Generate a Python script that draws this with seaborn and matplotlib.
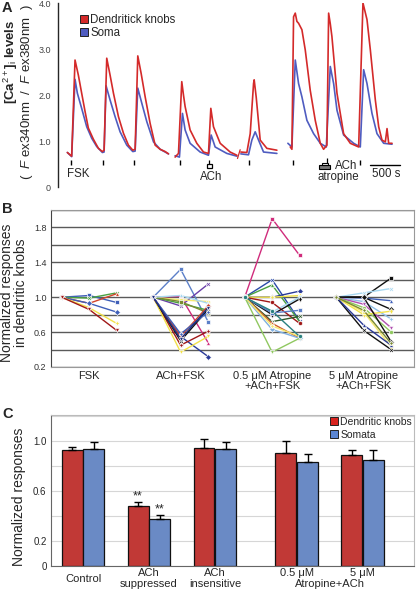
import matplotlib
matplotlib.use("Agg")
import matplotlib.pyplot as plt
from matplotlib.lines import Line2D
from matplotlib.patches import Rectangle
import pandas as pd
import seaborn as sns

# ---------------- panel A: Ca traces (time in s, F340/F380 ratio) ----------------
knob_t1 = [165, 241, 300, 359, 417, 477, 535, 623, 712, 782, 812, 859, 918, 977, 1065, 1153, 1241, 1318, 1359, 1406, 1465, 1536, 1624, 1712, 1800, 1889, 1947]
knob_v1 = [0.75, 0.67, 2.76, 2.43, 2.04, 1.64, 1.28, 1.04, 0.84, 0.77, 0.80, 2.80, 2.43, 2.04, 1.53, 1.17, 0.91, 0.80, 0.82, 2.85, 2.47, 1.96, 1.38, 0.91, 0.82, 0.77, 0.72]
knob_t2 = [2064, 2123, 2181, 2211, 2240, 2328, 2446, 2564, 2652, 2693, 2740, 2858, 3034, 3152]
knob_v2 = [0.65, 0.73, 2.29, 2.00, 1.75, 1.24, 0.95, 0.76, 0.73, 1.71, 1.31, 0.95, 0.76, 0.69]
knob_t3 = [3222, 3328, 3387, 3446, 3457, 3493, 3563, 3681, 3857]
knob_v3 = [0.76, 0.75, 1.16, 2.25, 2.33, 1.95, 1.02, 0.84, 0.80]
knob_t4 = [4093, 4122, 4151, 4181, 4210, 4239, 4298, 4357, 4445, 4533, 4622, 4680, 4739, 4769, 4798, 4827, 4916, 5033, 5151, 5298, 5374, 5445, 5504, 5592, 5651, 5709, 5768, 5798, 5827, 5886]
knob_v4 = [0.87, 0.82, 3.70, 3.78, 3.60, 3.56, 3.42, 2.98, 2.10, 1.45, 0.95, 0.82, 0.91, 3.78, 3.55, 3.27, 2.04, 1.16, 0.95, 0.87, 4.00, 3.64, 2.98, 1.89, 1.31, 1.02, 0.98, 1.27, 0.95, 0.95]

soma_t1 = [165, 241, 300, 341, 417, 506, 594, 682, 782, 812, 847, 918, 1006, 1094, 1212, 1318, 1359, 1406, 1477, 1565, 1683, 1800, 1947]
soma_v1 = [0.75, 0.66, 2.34, 2.04, 1.71, 1.31, 1.06, 0.88, 0.75, 0.76, 2.20, 1.89, 1.53, 1.20, 0.91, 0.77, 0.78, 2.15, 1.82, 1.42, 0.98, 0.82, 0.72]
soma_t2 = [2064, 2140, 2193, 2240, 2328, 2505, 2652, 2699, 2769, 2975, 3152]
soma_v2 = [0.68, 0.65, 1.60, 1.24, 0.95, 0.76, 0.69, 1.13, 0.87, 0.73, 0.67]
soma_t3 = [3222, 3357, 3416, 3475, 3534, 3622, 3857]
soma_v3 = [0.72, 0.70, 1.02, 1.20, 1.02, 0.76, 0.73]
soma_t4 = [4051, 4122, 4181, 4239, 4298, 4386, 4504, 4622, 4728, 4798, 4857, 4916, 5033, 5210, 5327, 5386, 5445, 5533, 5621, 5739, 5886]
soma_v4 = [0.95, 0.87, 2.76, 2.25, 1.96, 1.45, 1.16, 0.95, 0.87, 2.62, 2.25, 1.67, 1.13, 0.95, 0.87, 2.55, 2.25, 1.60, 1.16, 0.95, 0.93]

stim_times = [229, 800, 1340, 2152, 3357, 4140, 5316]

# ---------------- panel B: normalized responses per knob ----------------
b_groups = ["FSK", "ACh+FSK", "0.5 μM Atropine\n+ACh+FSK", "5 μM Atropine\n+ACh+FSK"]

fsk_mid = [1.02, 0.99, 0.93, 0.93, 0.88, 0.86]
fsk_end = [0.94, 1.05, 1.04, 0.83, 0.70, 0.62]
fsk_col = ["#3f5fb8", "#4aa040", "#d0442a", "#3f5fb8", "#f2e24a", "#a01818"]

ach_mid = [1.32, 0.90, 1.01, 0.55, 0.45, 0.37, 0.97, 0.93, 0.95, 0.50, 1.02, 0.55, 0.58, 0.52]
ach_end = [0.72, 1.15, 0.48, 0.32, 0.61, 0.55, 0.95, 0.85, 0.82, 0.86, 0.93, 0.90, 0.83, 0.88]
ach_col = ["#5b7fc8", "#6a3fa8", "#d02c7c", "#2a3a98", "#a01818", "#f2e24a", "#f6e870", "#4aa040",
           "#7a8a30", "#111111", "#a8d8f0", "#d0442a", "#3f5fb8", "#1f2f7f"]

atr05_mid = [1.90, 1.20, 1.14, 1.00, 1.00, 0.83, 0.94, 0.80, 0.82, 0.72, 0.70, 0.63, 0.67, 0.37, 0.84]
atr05_end = [1.48, 0.73, 0.72, 1.07, 1.02, 1.00, 0.70, 0.98, 0.85, 0.78, 0.53, 0.53, 0.55, 0.53, 0.55]
atr05_col = ["#d02c7c", "#2a4aa8", "#4aa040", "#2a3a98", "#f2e24a", "#a8d8f0", "#a01818", "#111111",
             "#5b7fc8", "#2f5a2a", "#d0602a", "#80b0e0", "#f6e870", "#90c860", "#2a8080"]

atr5_mid = [1.00, 1.05, 0.99, 1.00, 0.95, 0.92, 0.88, 0.80, 0.83, 0.62, 0.68, 1.00, 0.85]
atr5_end = [1.22, 1.10, 0.96, 0.86, 0.75, 0.65, 0.60, 0.84, 0.43, 0.40, 0.45, 0.49, 0.47]
atr5_col = ["#111111", "#a8d8f0", "#3f5fb8", "#111111", "#90c0e8", "#b050b0", "#90c860", "#f2e24a",
            "#f6e870", "#111111", "#2a3a98", "#111111", "#7a8a30"]

# ---------------- panel C: mean normalized responses ----------------
c_groups = ["Control", "ACh\nsuppressed", "ACh\ninsensitive", "0.5 μM", "5 μM"]
c_pos = [0, 1, 2, 3.24, 4.24]
knobs = [0.928, 0.481, 0.947, 0.909, 0.893]
knobs_err = [0.027, 0.032, 0.067, 0.094, 0.035]
somata = [0.936, 0.380, 0.936, 0.834, 0.853]
somata_err = [0.060, 0.032, 0.060, 0.062, 0.075]

RED = "#d42a2a"
BLUE = "#4f5cc0"
BAR_RED = "#d8231f"
BAR_BLUE = "#5b86d4"

sns.set_style("white")
plt.rcParams["font.family"] = ["Liberation Sans", "DejaVu Sans"]
plt.rcParams["mathtext.fontset"] = "custom"
plt.rcParams["mathtext.rm"] = "Liberation Sans"
plt.rcParams["mathtext.it"] = "Liberation Sans:italic"
plt.rcParams["mathtext.bf"] = "Liberation Sans:bold"

W, H = 416, 597
fig = plt.figure(figsize=(W / 100, H / 100), dpi=100)


def box(left, top, right, bottom):
    return [left / W, 1 - bottom / H, (right - left) / W, (bottom - top) / H]


# ================= A =================
axA = fig.add_axes(box(58, 3, 407, 187))
rows = []
for ch, segs in [("Soma", [(soma_t1, soma_v1), (soma_t2, soma_v2), (soma_t3, soma_v3), (soma_t4, soma_v4)]),
                 ("Dendritick knobs", [(knob_t1, knob_v1), (knob_t2, knob_v2), (knob_t3, knob_v3), (knob_t4, knob_v4)])]:
    for k, (ts, vs) in enumerate(segs):
        for t, v in zip(ts, vs):
            rows.append({"t": t, "ratio": v, "channel": ch, "seg": f"{ch}{k}"})
trace_df = pd.DataFrame(rows)
sns.lineplot(data=trace_df, x="t", y="ratio", hue="channel", units="seg", estimator=None, sort=False,
             hue_order=["Soma", "Dendritick knobs"], palette={"Soma": BLUE, "Dendritick knobs": RED},
             lw=1.2, legend=False, ax=axA)
axA.set_xlim(0, 6150)
axA.set_ylim(0, 4)
for s in ["top", "right", "bottom"]:
    axA.spines[s].set_visible(False)
axA.spines["left"].set_linewidth(1.0)
axA.set_xticks([])
axA.set_yticks([0, 1, 2, 3, 4], ["0", "1.0", "2.0", "3.0", "4.0"])
axA.tick_params(axis="y", direction="out", length=4, width=1, labelsize=6.5, labelcolor="#444", pad=1)
axA.set_xlabel("")
axA.set_ylabel("")

# stimulus marks
axA.vlines(stim_times, 0.47, 0.58, color="black", lw=1)
axA.plot([3163, 3210], [0.62, 0.81], color=RED, lw=0.9)
axA.add_patch(Rectangle((2623, 0.42), 88, 0.09, fill=False, ec="black", lw=0.9))
axA.vlines([2667], 0.51, 0.58, color="black", lw=0.9)
axA.add_patch(Rectangle((4592, 0.385), 206, 0.085, fc="#777", ec="black", lw=0.8))
axA.add_patch(Rectangle((4651, 0.47), 100, 0.06, fill=False, ec="black", lw=0.8))
axA.vlines([4745], 0.53, 0.64, color="black", lw=0.9)
axA.plot([5504, 6021], [0.47, 0.47], color="black", lw=1)
axA.text(5780, 0.28, "500 s", ha="center", va="center", fontsize=8.3)
axA.text(153, 0.29, "FSK", ha="left", va="center", fontsize=8.3)
axA.text(2693, 0.22, "ACh", ha="center", va="center", fontsize=8.3)
axA.text(4880, 0.46, "ACh", ha="left", va="center", fontsize=8.3)
axA.text(4940, 0.22, "atropine", ha="center", va="center", fontsize=8.3)

legA = [Line2D([], [], ls="", marker="s", ms=5.5, mfc=RED, mec="#222", mew=0.7),
        Line2D([], [], ls="", marker="s", ms=5.5, mfc=BLUE, mec="#222", mew=0.7)]
axA.legend(legA, ["Dendritick knobs", "Soma"], loc="upper left", bbox_to_anchor=(0.065, 0.94),
           frameon=False, fontsize=8.3, handlelength=0.6, handletextpad=0.25, labelspacing=0.05,
           borderaxespad=0, borderpad=0)

fig.text(11 / W, 1 - 62 / H, r"[Ca$^{2+}$]$_{\rm i}$ levels", rotation=90, ha="center", va="center",
         fontsize=9.5, fontweight="bold")
fig.text(27 / W, 1 - 92 / H, r"(  $\it{F}$ ex340nm  /  $\it{F}$ ex380nm  )", rotation=90, ha="center",
         va="center", fontsize=9.5)

# ================= B =================
axB = fig.add_axes(box(50.7, 210, 414, 367))
markers_cycle = ["s", "X", "^", "D", "P", "v", "o", "d"]
rowsB = []
offsets = [-0.3, 0.0, 0.3]
for gi, (mids, ends, cols) in enumerate([(fsk_mid, fsk_end, fsk_col), (ach_mid, ach_end, ach_col),
                                        (atr05_mid, atr05_end, atr05_col), (atr5_mid, atr5_end, atr5_col)]):
    for li, (m, e, c) in enumerate(zip(mids, ends, cols)):
        lid = f"g{gi}l{li}"
        for off, v in zip(offsets, [1.0, m, e]):
            rowsB.append({"x": gi + off, "resp": v, "line": lid, "color": c,
                          "marker": markers_cycle[li % len(markers_cycle)]})
dfB = pd.DataFrame(rowsB)
line_ids = list(dict.fromkeys(dfB["line"]))
pal = {lid: dfB.loc[dfB["line"] == lid, "color"].iloc[0] for lid in line_ids}
mk = {lid: dfB.loc[dfB["line"] == lid, "marker"].iloc[0] for lid in line_ids}
sns.lineplot(data=dfB, x="x", y="resp", hue="line", style="line", palette=pal, markers=mk, dashes=False,
             estimator=None, sort=False, lw=1.0, ms=3.0, mew=0.5, legend=False, ax=axB)
axB.set_xlim(-0.42, 3.55)
axB.set_ylim(0.2, 2.0)
axB.set_yticks([0.2, 0.4, 0.6, 0.8, 1.0, 1.2, 1.4, 1.6, 1.8, 2.0],
               ["0.2", "", "0.6", "", "1.0", "", "1.4", "", "1.8", ""])
axB.yaxis.grid(True, color="#5a5a5a", lw=1.0)
axB.set_axisbelow(True)
axB.set_xticks([0, 1, 2, 3], b_groups)
axB.tick_params(axis="both", length=0, labelsize=8, pad=3)
axB.tick_params(axis="y", labelsize=6.5, labelcolor="#333")
for lab in axB.get_xticklabels():
    lab.set_linespacing(1.0)
for s in axB.spines.values():
    s.set_color("#999")
    s.set_linewidth(0.8)
axB.spines["left"].set_color("#444")
axB.set_xlabel("")
axB.set_ylabel("")
fig.text(14 / W, 1 - 293 / H, "Normalized responses\nin dendritic knobs", rotation=90, ha="center",
         va="center", fontsize=10, linespacing=1.0)

# ================= C =================
axC = fig.add_axes(box(50.7, 415, 414, 566))
rowsC = []
for p, k, s in zip(c_pos, knobs, somata):
    rowsC.append({"pos": p, "resp": k, "region": "Dendritic knobs"})
    rowsC.append({"pos": p, "resp": s, "region": "Somata"})
dfC = pd.DataFrame(rowsC)
sns.barplot(data=dfC, x="pos", y="resp", hue="region", native_scale=True, errorbar=None,
            palette={"Dendritic knobs": BAR_RED, "Somata": BAR_BLUE}, width=0.66, gap=0.04,
            edgecolor="#111", linewidth=0.9, legend=False, ax=axC)
bars = sorted(axC.patches, key=lambda r: r.get_x())
errs = []
for k_e, s_e in zip(knobs_err, somata_err):
    errs += [k_e, s_e]
for bar, e in zip(bars, errs):
    xc = bar.get_x() + bar.get_width() / 2
    axC.errorbar(xc, bar.get_height(), yerr=[[0], [e]], color="black", lw=1, capsize=3, capthick=1)
# significance marks above ACh suppressed bars
for bar in bars[2:4]:
    xc = bar.get_x() + bar.get_width() / 2
    axC.text(xc, bar.get_height() + 0.075, "**", ha="center", va="center", fontsize=9)
axC.set_xlim(-0.49, 5.02)
axC.set_ylim(0, 1.21)
axC.set_yticks([0, 0.2, 0.4, 0.6, 0.8, 1.0, 1.2], ["0", "0.2", "", "0.6", "", "1.0", ""])
axC.yaxis.grid(True, color="#d6d6d6", lw=0.8)
axC.set_axisbelow(True)
axC.set_xticks(c_pos, [""] * len(c_pos))
axC.tick_params(axis="both", length=0)
axC.tick_params(axis="y", labelsize=7, pad=3)
for s in axC.spines.values():
    s.set_color("#bbb")
    s.set_linewidth(0.8)
axC.spines["left"].set_color("#666")
axC.spines["bottom"].set_color("#666")
axC.set_xlabel("")
axC.set_ylabel("")
# category labels under the bars (two-line ones sit on two rows)
xt = axC.get_xaxis_transform()
for p, g in zip(c_pos, c_groups):
    parts = g.split("\n")
    if g == "Control":
        axC.text(p, -0.088, g, ha="center", va="center", fontsize=8, transform=xt)
    else:
        for r, part in enumerate(parts):
            axC.text(p, -0.048 - 0.068 * r, part, ha="center", va="center", fontsize=8, transform=xt)
axC.text((c_pos[3] + c_pos[4]) / 2, -0.116, "Atropine+ACh", ha="center", va="center", fontsize=8,
         transform=xt)
legC = [Line2D([], [], ls="", marker="s", ms=5.5, mfc=BAR_RED, mec="#222", mew=0.7),
        Line2D([], [], ls="", marker="s", ms=5.5, mfc=BAR_BLUE, mec="#222", mew=0.7)]
axC.legend(legC, ["Dendritic knobs", "Somata"], loc="upper right", bbox_to_anchor=(1.0, 1.0),
           frameon=False, fontsize=7.5, handlelength=0.6, handletextpad=0.25, labelspacing=0.25,
           borderaxespad=0.1, borderpad=0.1)
fig.text(19 / W, 1 - 497 / H, "Normalized responses", rotation=90, ha="center", va="center", fontsize=10)

for lab, y in [("A", 8), ("B", 209), ("C", 414)]:
    fig.text(2 / W, 1 - y / H, lab, ha="left", va="center", fontsize=10.5, fontweight="bold")

fig.savefig("out.png", dpi=100)
plt.close(fig)
